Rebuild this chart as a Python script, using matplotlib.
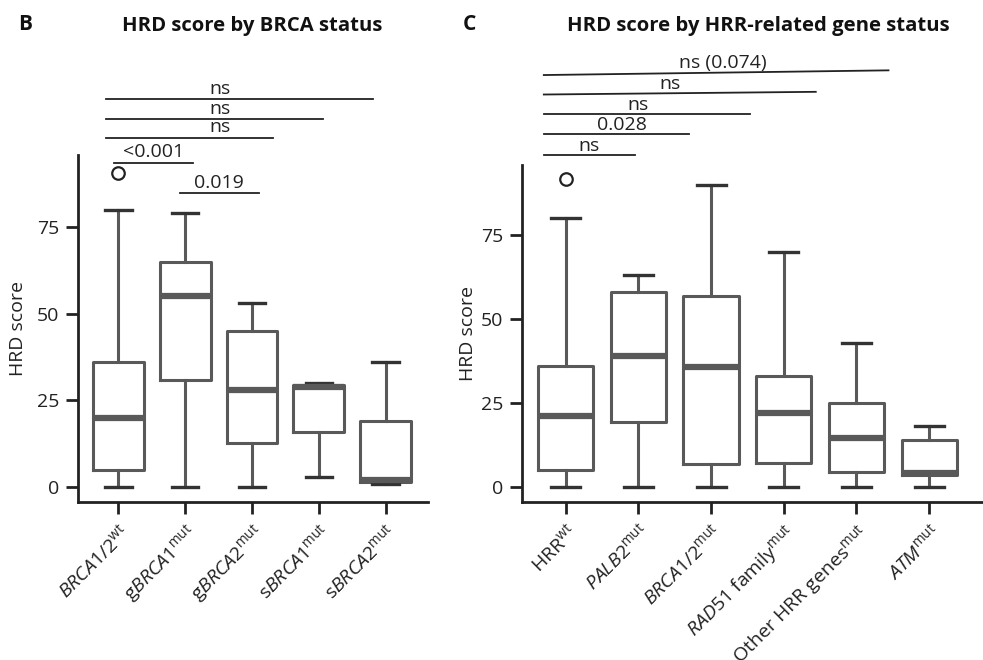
import matplotlib
matplotlib.use("Agg")
import matplotlib.pyplot as plt

plt.rcParams['font.family'] = ['Open Sans', 'DejaVu Sans']
plt.rcParams['mathtext.fontset'] = 'custom'
plt.rcParams['mathtext.rm'] = 'Open Sans'
plt.rcParams['mathtext.it'] = 'Open Sans:italic'
plt.rcParams['mathtext.bf'] = 'Open Sans:bold'

# ---------------- data ----------------
brca_labels = [r'$\mathit{BRCA1/2}^{\mathrm{wt}}$', r'g$\mathit{BRCA1}^{\mathrm{mut}}$',
               r'g$\mathit{BRCA2}^{\mathrm{mut}}$', r's$\mathit{BRCA1}^{\mathrm{mut}}$',
               r's$\mathit{BRCA2}^{\mathrm{mut}}$']
brca_whislo = [0, 0, 0, 3, 1]
brca_q1 = [5, 31, 12.8, 16, 1.5]
brca_med = [20, 55, 28, 29, 2]
brca_q3 = [36, 65, 45, 29.5, 19]
brca_whishi = [80, 79, 53, 30, 36]
brca_fliers = [[90.7], [], [], [], []]

hrr_labels = [r'HRR$^{\mathrm{wt}}$', r'$\mathit{PALB2}^{\mathrm{mut}}$', r'$\mathit{BRCA1/2}^{\mathrm{mut}}$',
              r'$\mathit{RAD51}$ family$^{\mathrm{mut}}$', r'Other HRR genes$^{\mathrm{mut}}$',
              r'$\mathit{ATM}^{\mathrm{mut}}$']
hrr_whislo = [0, 0, 0, 0, 0, 0]
hrr_q1 = [5, 19.3, 6.8, 7, 4.4, 3.5]
hrr_med = [21, 39, 35.6, 22, 14.5, 4]
hrr_q3 = [36, 58.1, 57, 33, 25.1, 14]
hrr_whishi = [80, 63, 90, 70, 43, 18]
hrr_fliers = [[91.6], [], [], [], [], []]

yticks = [0, 25, 50, 75]

# significance annotations: label, x-start, x-end, y-left, y-right, text-x
brca_sig = [
    ("ns", -0.18, 3.81, 111.9, 111.9, 1.52),
    ("ns", -0.18, 3.06, 106.1, 106.1, 1.52),
    ("ns", -0.18, 2.31, 100.7, 100.7, 1.52),
    ("<0.001", -0.06, 1.12, 93.5, 93.5, 0.53),
    ("0.019", 0.93, 2.10, 84.8, 84.8, 1.50),
]
hrr_sig = [
    ("ns (0.074)", -0.30, 4.44, 122.7, 124.1, 2.16),
    ("ns", -0.30, 3.44, 116.9, 117.7, 1.43),
    ("ns", -0.30, 2.54, 111.0, 111.0, 1.00),
    ("0.028", -0.30, 1.69, 105.0, 105.0, 0.77),
    ("ns", -0.30, 0.95, 98.8, 98.8, 0.32),
]

# ---------------- drawing ----------------
W, H = 983, 660
fig = plt.figure(figsize=(W / 100, H / 100), dpi=100)

box_col = '#595959'
cap_col = '#333333'
fs = 14


def draw(ax, labels, wlo, q1, med, q3, whi, fl, sig, xlim, ylim, txt_off):
    stats = []
    for i in range(len(labels)):
        stats.append(dict(med=med[i], q1=q1[i], q3=q3[i], whislo=wlo[i], whishi=whi[i], fliers=fl[i]))
    ax.bxp(stats, positions=range(len(labels)), widths=0.76, showfliers=True,
           boxprops=dict(color=box_col, linewidth=2.2),
           medianprops=dict(color=box_col, linewidth=4.5, solid_capstyle='butt'),
           whiskerprops=dict(color=box_col, linewidth=2.2),
           capprops=dict(color=cap_col, linewidth=2.4),
           flierprops=dict(marker='o', markerfacecolor='none', markeredgecolor='#222222',
                           markersize=9, markeredgewidth=1.6),
           capwidths=0.4)
    ax.set_xlim(*xlim)
    ax.set_ylim(*ylim)
    ax.set_yticks(yticks)
    ax.set_yticklabels([str(t) for t in yticks], fontsize=fs, color='#222222')
    ax.set_xticks(range(len(labels)))
    ax.set_xticklabels(labels, rotation=45, ha='right', rotation_mode='anchor',
                       fontsize=fs, color='#222222')
    ax.tick_params(axis='both', length=8.5, width=2, color='#222222', pad=5)
    for s in ['top', 'right']:
        ax.spines[s].set_visible(False)
    for s in ['left', 'bottom']:
        ax.spines[s].set_linewidth(2)
        ax.spines[s].set_color('#222222')
    ax.set_ylabel('HRD score', fontsize=fs, color='#222222')
    for lab, x1, x2, y1, y2, tx in sig:
        ax.plot([x1, x2], [y1, y2], color='#222222', lw=1.3, clip_on=False)
        ty = y1 + (y2 - y1) * (tx - x1) / (x2 - x1)
        ax.annotate(lab, xy=(tx, ty), xytext=(0, txt_off), textcoords='offset points',
                    ha='center', va='baseline', fontsize=fs, color='#222222',
                    annotation_clip=False)


ax1 = fig.add_axes([78 / W, 1 - 502 / H, (428 - 78) / W, (502 - 155) / H])
draw(ax1, brca_labels, brca_whislo, brca_q1, brca_med, brca_q3, brca_whishi, brca_fliers,
     brca_sig, (-0.6, 4.63), (-4.3, 95.8), 4)
ax1.yaxis.set_label_coords(-0.145, 0.5)

ax2 = fig.add_axes([522 / W, 1 - 502 / H, (983 - 522) / W, (502 - 165) / H])
draw(ax2, hrr_labels, hrr_whislo, hrr_q1, hrr_med, hrr_q3, hrr_whishi, hrr_fliers,
     hrr_sig, (-0.6, 5.74), (-4.5, 95.9), 3)
ax2.yaxis.set_label_coords(-0.097, 0.5)

fig.text(18 / W, 1 - 25 / H, 'B', fontsize=15, fontweight='bold', va='center', ha='left', color='#111111')
fig.text(463 / W, 1 - 25 / H, 'C', fontsize=15, fontweight='bold', va='center', ha='left', color='#111111')
fig.text(252 / W, 1 - 26 / H, 'HRD score by BRCA status', fontsize=14.6, fontweight='bold',
         va='center', ha='center', color='#111111')
fig.text(758 / W, 1 - 26 / H, 'HRD score by HRR-related gene status', fontsize=14.6, fontweight='bold',
         va='center', ha='center', color='#111111')

fig.savefig('out.png', dpi=100)
